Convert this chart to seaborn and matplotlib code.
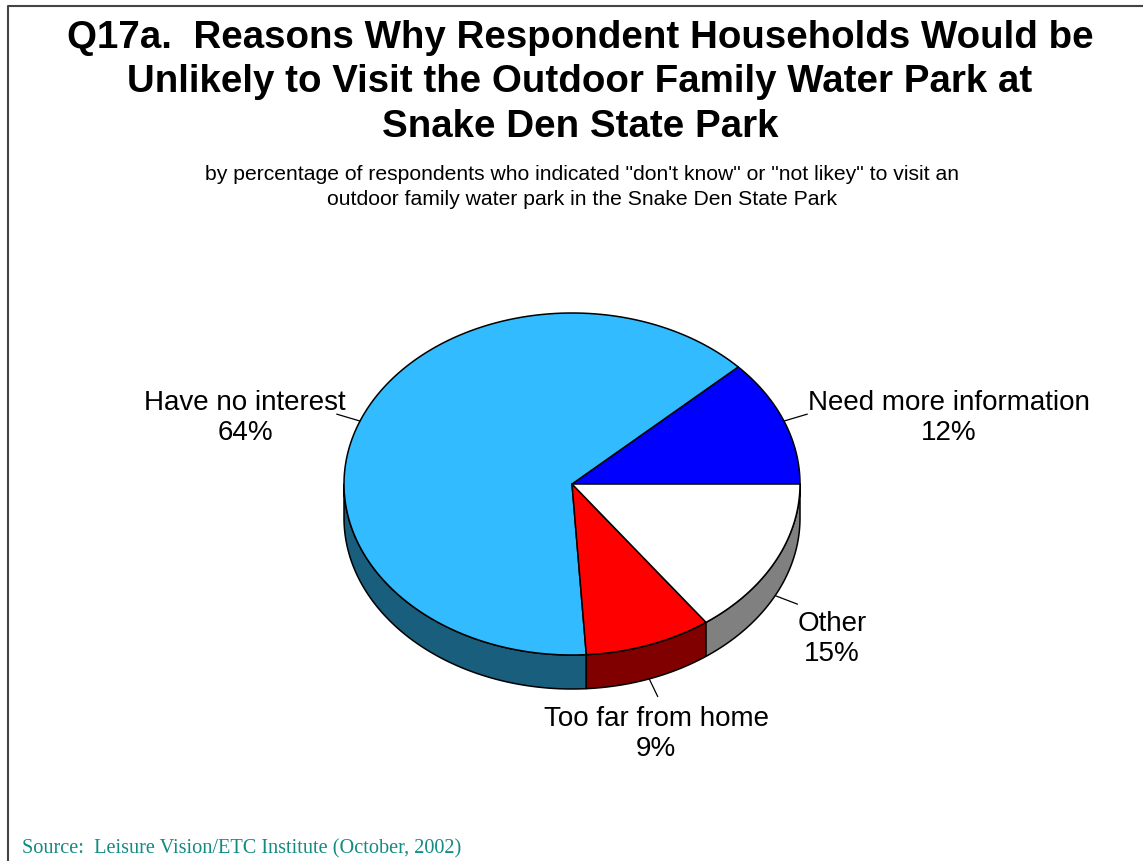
import numpy as np
import matplotlib
matplotlib.use("Agg")
import matplotlib.pyplot as plt
from matplotlib.patches import Polygon
from matplotlib.lines import Line2D
import seaborn as sns

# ---- data ---------------------------------------------------------------
categories = ["Need more information", "Have no interest", "Too far from home", "Other"]
percent = [12, 64, 9, 15]
top_colors = ["#0000FF", "#33BBFF", "#FF0000", "#FFFFFF"]
side_colors = ["#000080", "#1A5E7E", "#800000", "#808080"]

title_lines = [
    "Q17a.  Reasons Why Respondent Households Would be",
    "Unlikely to Visit the Outdoor Family Water Park at",
    "Snake Den State Park",
]
subtitle_lines = [
    "by percentage of respondents who indicated \"don't know\" or \"not likey\" to visit an",
    "outdoor family water park in the Snake Den State Park",
]
source_text = "Source:  Leisure Vision/ETC Institute (October, 2002)"

# ---- style --------------------------------------------------------------
sns.set_theme(style="white")
plt.rcParams["font.family"] = ["Liberation Sans", "DejaVu Sans"]

W, H = 1143, 862
fig = plt.figure(figsize=(W / 100, H / 100), dpi=100)
ax = fig.add_axes([0, 0, 1, 1])
ax.set_xlim(0, W)
ax.set_ylim(H, 0)
ax.axis("off")

# outer frame (left and top edges visible)
ax.add_line(Line2D([8, 8, W + 5], [H + 5, 7, 7], color="#444444", lw=1.5))

# ---- 3D pie geometry ----------------------------------------------------
cx, cy = 572, 485        # centre of the top face
rx, ry = 228, 171        # ellipse radii
depth = 34               # thickness of the pie


def ell(t_deg, drop=0.0):
    t = np.radians(t_deg)
    return cx + rx * np.cos(t), cy - ry * np.sin(t) + drop


vals = np.array(percent, dtype=float)
bounds = np.concatenate([[0], np.cumsum(vals) / vals.sum() * 360.0])

# side walls: only the front half (180..360 deg) is visible
for i in range(len(vals)):
    a0, a1 = bounds[i], bounds[i + 1]
    s0, s1 = max(a0, 180.0), min(a1, 360.0)
    if s1 <= s0:
        continue
    ts = np.linspace(s0, s1, 120)
    xs, ys = ell(ts)
    xb, yb = ell(ts[::-1], depth)
    poly = np.column_stack([np.concatenate([xs, xb]), np.concatenate([ys, yb])])
    ax.add_patch(Polygon(poly, closed=True, facecolor=side_colors[i],
                         edgecolor="black", lw=1.1, joinstyle="round"))

# top face wedges
for i in range(len(vals)):
    ts = np.linspace(bounds[i], bounds[i + 1], 200)
    xs, ys = ell(ts)
    poly = np.column_stack([np.concatenate([[cx], xs]), np.concatenate([[cy], ys])])
    ax.add_patch(Polygon(poly, closed=True, facecolor=top_colors[i],
                         edgecolor="black", lw=1.1, joinstyle="round"))

# ---- labels with leader lines ------------------------------------------
label_pos = [(949, 418), (245, 418), (656, 734), (832, 639)]
for i, (name, p) in enumerate(zip(categories, percent)):
    mid = (bounds[i] + bounds[i + 1]) / 2.0
    drop = depth if np.sin(np.radians(mid)) < 0 else 0.0
    x0, y0 = ell(mid, drop)
    t = np.radians(mid)
    x1 = cx + 1.11 * rx * np.cos(t)
    y1 = cy - 1.11 * ry * np.sin(t) + drop
    ax.add_line(Line2D([x0, x1], [y0, y1], color="black", lw=0.9))
    lx, ly = label_pos[i]
    ax.text(lx, ly, f"{name}\n{p}%", ha="center", va="center",
            fontsize=20, color="black", linespacing=1.2)

# ---- titles -------------------------------------------------------------
for k, line in enumerate(title_lines):
    ax.text(580, 38 + k * 44.5, line, ha="center", va="center",
            fontsize=27.7, fontweight="bold", color="black")
for k, line in enumerate(subtitle_lines):
    ax.text(582, 175 + k * 25, line, ha="center", va="center",
            fontsize=15.2, color="black")

ax.text(22, 849, source_text, ha="left", va="center", fontsize=14.6,
        color="#138A82", family=["Liberation Serif", "DejaVu Serif"])

fig.savefig("out.png", dpi=100)
